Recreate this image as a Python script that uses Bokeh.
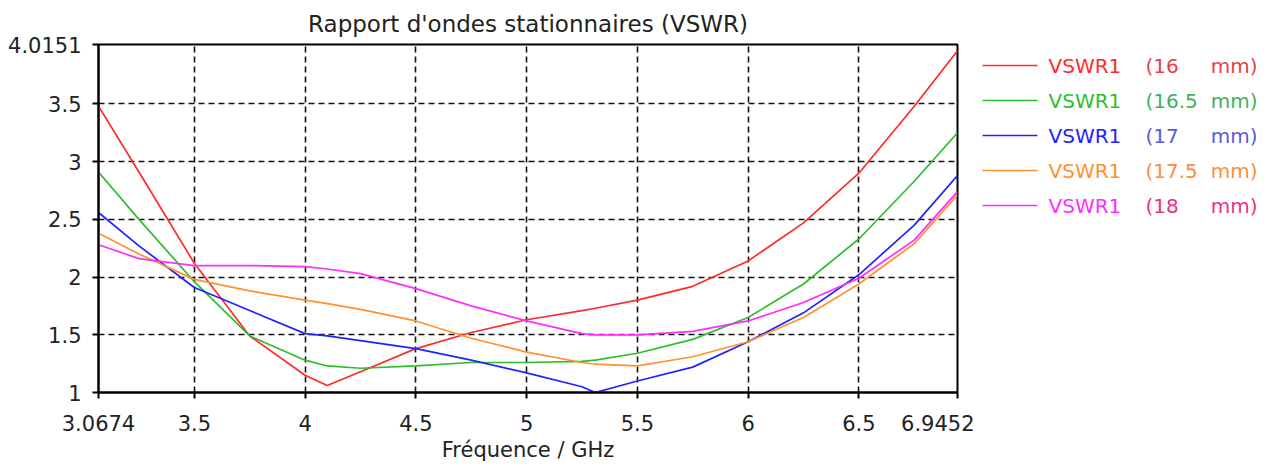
from bokeh.plotting import figure
from bokeh.layouts import row
from bokeh.models import Range1d, FixedTicker, CustomJSTickFormatter, ColumnDataSource
from bokeh.core.properties import value
from bokeh.embed import file_html
from bokeh.resources import INLINE

# ---------------- data ----------------
freq = [3.0674, 3.25, 3.5, 3.75, 4.0, 4.1, 4.25, 4.5, 4.75, 5.0, 5.25, 5.31,
        5.5, 5.75, 6.0, 6.25, 6.5, 6.75, 6.9452]
vswr_16 = [3.48, 2.91, 2.12, 1.49, 1.15, 1.06, 1.18, 1.38, 1.52, 1.63, 1.71, 1.73,
           1.80, 1.92, 2.14, 2.47, 2.90, 3.48, 3.96]
vswr_16_5 = [2.91, 2.50, 1.96, 1.49, 1.28, 1.23, 1.21, 1.23, 1.26, 1.26, 1.27, 1.28,
             1.34, 1.46, 1.65, 1.94, 2.33, 2.83, 3.25]
vswr_17 = [2.56, 2.27, 1.91, 1.71, 1.51, 1.49, 1.45, 1.38, 1.28, 1.17, 1.05, 1.00,
           1.10, 1.22, 1.44, 1.69, 2.02, 2.45, 2.88]
vswr_17_5 = [2.38, 2.20, 1.98, 1.88, 1.80, 1.77, 1.72, 1.62, 1.47, 1.35, 1.26, 1.245,
             1.23, 1.31, 1.44, 1.65, 1.94, 2.29, 2.71]
vswr_18 = [2.28, 2.16, 2.10, 2.10, 2.09, 2.07, 2.03, 1.90, 1.75, 1.62, 1.51, 1.50,
           1.50, 1.53, 1.62, 1.78, 1.99, 2.32, 2.74]

series_names = ["VSWR1"] * 5
series_sizes = ["(16", "(16.5", "(17", "(17.5", "(18"]
series_unit = ["mm)"] * 5
x_ticks = [3.0674, 3.5, 4, 4.5, 5, 5.5, 6, 6.5, 6.9452]
y_ticks = [1, 1.5, 2, 2.5, 3, 3.5, 4.0151]

line_colors = ["#ff2a2a", "#2cbf2c", "#2222ff", "#ff922e", "#ff2cff"]
size_colors = ["#e8404a", "#3cb35a", "#5a5ad6", "#ff8c3c", "#ec2f86"]

FONT = "DejaVu Sans"
TOP, FRAME_H, BOTTOM = 44, 348, 77

# ---------------- main figure ----------------
p = figure(frame_width=859, frame_height=FRAME_H,
           x_range=Range1d(3.0674, 6.9452), y_range=Range1d(1, 4.0151),
           output_backend="svg", toolbar_location=None,
           title="Rapport d'ondes stationnaires (VSWR)",
           min_border_left=98, min_border_right=17,
           min_border_top=TOP, min_border_bottom=BOTTOM,
           x_axis_label="Fréquence / GHz")

p.title.align = "center"
p.title.text_font = FONT
p.title.text_font_size = "23px"
p.title.text_font_style = "normal"
p.title.text_color = "#222222"
p.title.standoff = 15

fmt = CustomJSTickFormatter(code="return tick.toString();")
p.xaxis.ticker = FixedTicker(ticks=x_ticks)
p.yaxis.ticker = FixedTicker(ticks=y_ticks)
p.xaxis.formatter = fmt
p.yaxis.formatter = fmt

for ax in (p.xaxis[0], p.yaxis[0]):
    ax.axis_line_color = "black"
    ax.axis_line_width = 2
    ax.major_tick_line_color = "black"
    ax.major_tick_line_width = 2
    ax.major_tick_out = 6
    ax.major_tick_in = 0
    ax.minor_tick_line_color = None
    ax.major_label_text_font = FONT
    ax.major_label_text_font_size = "21px"
    ax.major_label_text_color = "#222222"
    ax.major_label_standoff = 11
p.xaxis.major_label_standoff = 16

p.xaxis.axis_label_text_font = FONT
p.xaxis.axis_label_text_font_size = "21px"
p.xaxis.axis_label_text_font_style = "normal"
p.xaxis.axis_label_text_color = "#222222"
p.xaxis.axis_label_standoff = 4

for g in (p.xgrid[0], p.ygrid[0]):
    g.grid_line_color = "#111111"
    g.grid_line_dash = "6 4"
    g.grid_line_width = 1.6

p.outline_line_color = "black"
p.outline_line_width = 2
p.background_fill_color = "white"
p.border_fill_color = "white"

all_series = [vswr_16, vswr_16_5, vswr_17, vswr_17_5, vswr_18]
for vals, col in zip(all_series, line_colors):
    p.line(freq, vals, line_color=col, line_width=1.7)

# ---------------- legend figure ----------------
LW = 292
lf = figure(width=LW, height=TOP + FRAME_H + BOTTOM,
            x_range=Range1d(0, LW), y_range=Range1d(FRAME_H, 0),
            output_backend="svg", toolbar_location=None,
            x_axis_location=None, y_axis_location=None,
            min_border_left=0, min_border_right=0,
            min_border_top=TOP, min_border_bottom=BOTTOM)
lf.xgrid.visible = False
lf.ygrid.visible = False
lf.outline_line_color = None

ys = [21 + 35 * i for i in range(len(series_names))]
src = ColumnDataSource(dict(
    x0=[8] * 5, x1=[63] * 5, y=ys,
    name=series_names, size=series_sizes, unit=series_unit,
    lc=line_colors, sc=size_colors,
    xn=[74] * 5, xs=[171] * 5, xu=[283] * 5,
))
lf.segment(x0="x0", y0="y", x1="x1", y1="y", line_color="lc", line_width=1.7, source=src)
lf.text(x="xn", y="y", text="name", text_color="lc", text_font=value(FONT),
        text_font_size="20px", text_baseline="middle", source=src)
lf.text(x="xs", y="y", text="size", text_color="sc", text_font=value(FONT),
        text_font_size="20px", text_baseline="middle", source=src)
lf.text(x="xu", y="y", text="unit", text_color="sc", text_font=value(FONT),
        text_font_size="20px", text_baseline="middle", text_align="right", source=src)

layout = row(p, lf)
open("out.html", "w").write(file_html(layout, INLINE))
